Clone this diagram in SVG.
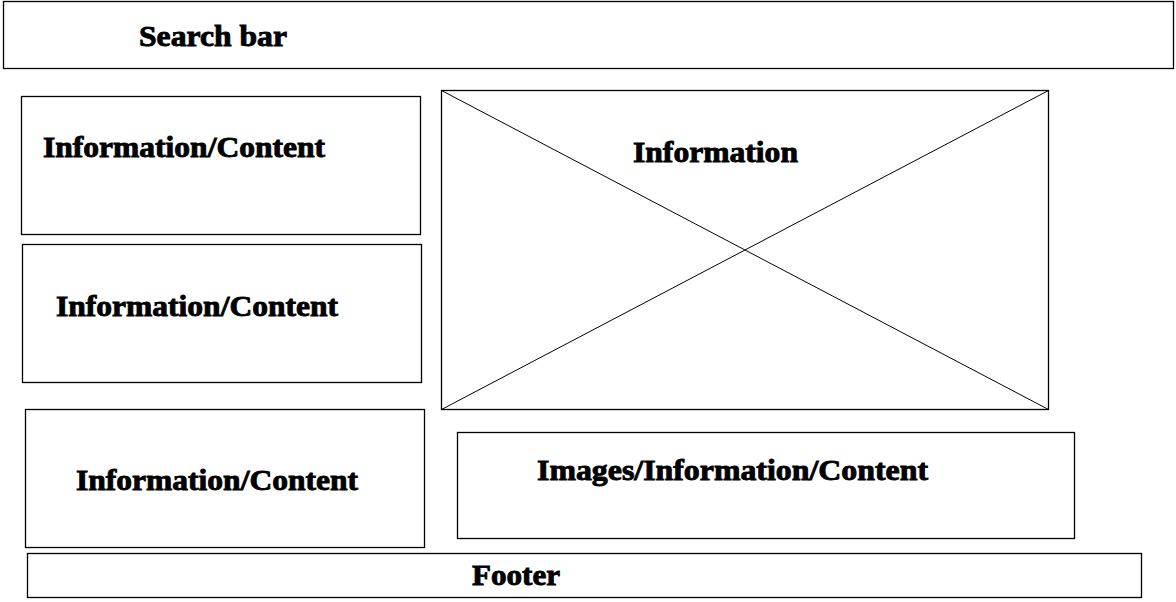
<svg xmlns="http://www.w3.org/2000/svg" width="1176" height="602" viewBox="0 0 1176 602">
<style>
.box{fill:#fff;stroke:#000;stroke-width:1.3}
.ln{stroke:#000;stroke-width:1}
.t{font-family:"Liberation Serif","Times New Roman",serif;font-weight:bold;font-size:30px;fill:#000;stroke:#000;stroke-width:0.9}
</style>
<rect width="1176" height="602" fill="#fff"/>
<g id="search-bar">
<rect class="box" x="3.5" y="1.5" width="1170" height="67"/>
<text class="t" x="139" y="46" textLength="148" lengthAdjust="spacingAndGlyphs">Search bar</text>
</g>
<g id="info-content-1">
<rect class="box" x="21.5" y="96.5" width="399" height="138"/>
<text class="t" x="43" y="157" textLength="282" lengthAdjust="spacingAndGlyphs">Information/Content</text>
</g>
<g id="info-content-2">
<rect class="box" x="22.5" y="244.5" width="399" height="138"/>
<text class="t" x="56" y="316" textLength="282" lengthAdjust="spacingAndGlyphs">Information/Content</text>
</g>
<g id="info-content-3">
<rect class="box" x="25.5" y="409.5" width="399" height="138"/>
<text class="t" x="76" y="490" textLength="282" lengthAdjust="spacingAndGlyphs">Information/Content</text>
</g>
<g id="information">
<rect class="box" x="441.5" y="90.5" width="607" height="319"/>
<text class="t" x="633" y="162" textLength="165" lengthAdjust="spacingAndGlyphs">Information</text>
</g>
<g id="images-info-content">
<rect class="box" x="457.5" y="432.5" width="617" height="106"/>
<text class="t" x="537" y="480" textLength="391" lengthAdjust="spacingAndGlyphs">Images/Information/Content</text>
</g>
<g id="footer">
<rect class="box" x="27.5" y="553.5" width="1114" height="44"/>
<text class="t" x="472" y="585" textLength="88" lengthAdjust="spacingAndGlyphs">Footer</text>
</g>
<g id="connectors">
<line class="ln" x1="441.5" y1="90.5" x2="1048.5" y2="409.5"/>
<line class="ln" x1="441.5" y1="409.5" x2="1048.5" y2="90.5"/>
</g>
</svg>
